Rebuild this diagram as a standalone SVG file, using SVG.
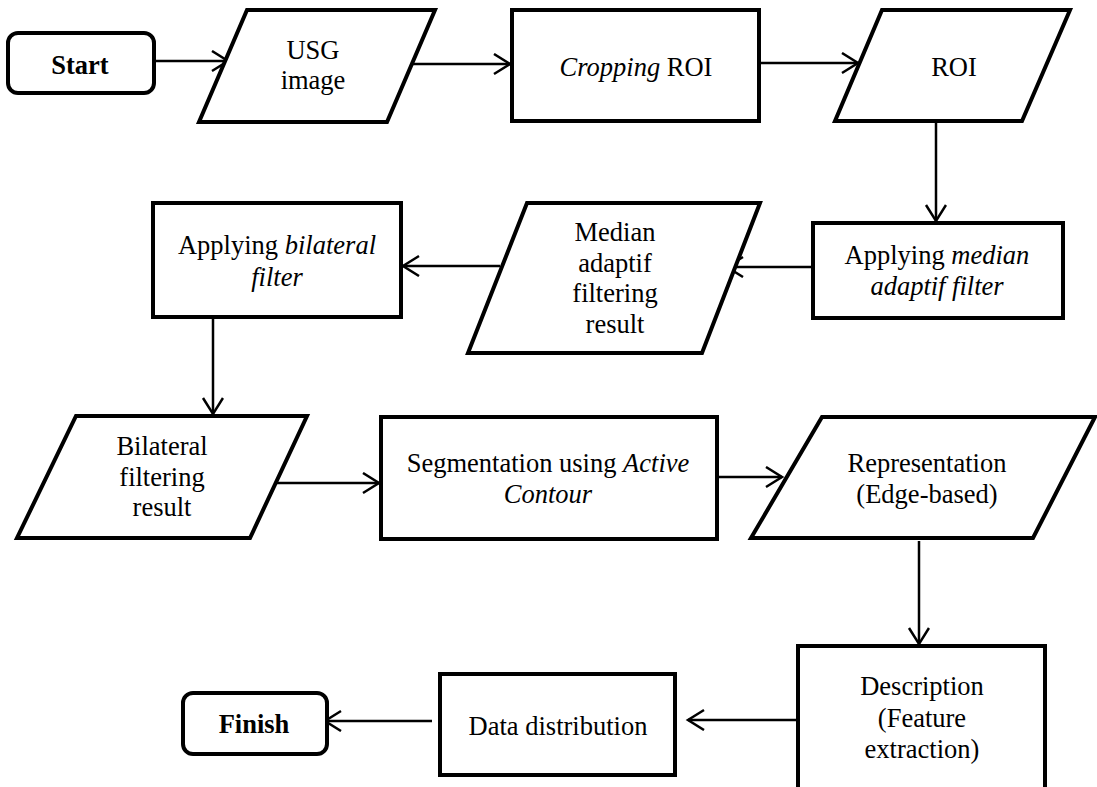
<svg xmlns="http://www.w3.org/2000/svg" width="1097" height="787" viewBox="0 0 1097 787">
<defs>
<style>
.box{fill:#fff;stroke:#000;stroke-width:4;stroke-linejoin:miter}
.t{font-family:"Liberation Serif","Times New Roman",serif;font-size:26.5px;fill:#000;text-anchor:middle}
.b{font-weight:bold}
.i{font-style:italic}
.c{fill:none;stroke:#000;stroke-width:2.5}
</style>
<marker id="ah" markerUnits="userSpaceOnUse" markerWidth="22" markerHeight="26" refX="17" refY="11" orient="auto">
<path d="M1,1 L17,11 L1,21" fill="none" stroke="#000" stroke-width="2.5"/>
</marker>
</defs>
<rect width="1097" height="787" fill="#fff"/>
<g id="connectors">
<line class="c" x1="154" y1="61" x2="228" y2="61" marker-end="url(#ah)"/>
<line class="c" x1="413" y1="64" x2="510" y2="64" marker-end="url(#ah)"/>
<line class="c" x1="759" y1="63" x2="858" y2="63" marker-end="url(#ah)"/>
<line class="c" x1="936" y1="122" x2="936" y2="221" marker-end="url(#ah)"/>
<line class="c" x1="813" y1="267" x2="727" y2="267" marker-end="url(#ah)"/>
<line class="c" x1="500" y1="266" x2="403" y2="266" marker-end="url(#ah)"/>
<line class="c" x1="213" y1="317" x2="213" y2="414" marker-end="url(#ah)"/>
<line class="c" x1="277" y1="483" x2="379" y2="483" marker-end="url(#ah)"/>
<line class="c" x1="717" y1="477" x2="782" y2="477" marker-end="url(#ah)"/>
<line class="c" x1="919" y1="541" x2="919" y2="644" marker-end="url(#ah)"/>
<line class="c" x1="798" y1="720" x2="688" y2="720" marker-end="url(#ah)"/>
<line class="c" x1="432" y1="721" x2="325" y2="721" marker-end="url(#ah)"/>
</g>
<g id="start">
<rect class="box" x="8" y="33" width="146" height="60" rx="10"/>
<text class="t b" x="80" y="74">Start</text>
</g>
<g id="usg-image">
<polygon class="box" points="247,10 435,10 387,122 199,122"/>
<text class="t" x="313" y="59">USG</text>
<text class="t" x="313" y="89">image</text>
</g>
<g id="cropping-roi">
<rect class="box" x="512" y="10" width="247" height="111"/>
<text class="t" x="636" y="76"><tspan class="i">Cropping</tspan> ROI</text>
</g>
<g id="roi">
<polygon class="box" points="882,10 1070,10 1022,121 835,121"/>
<text class="t" x="954" y="76">ROI</text>
</g>
<g id="applying-median">
<rect class="box" x="813" y="223" width="250" height="95"/>
<text class="t" x="937" y="264">Applying <tspan class="i">median</tspan></text>
<text class="t i" x="937" y="295">adaptif filter</text>
</g>
<g id="median-result">
<polygon class="box" points="527,203 760,203 702,353 468,353"/>
<text class="t" x="615" y="241">Median</text>
<text class="t" x="615" y="272">adaptif</text>
<text class="t" x="615" y="302">filtering</text>
<text class="t" x="615" y="333">result</text>
</g>
<g id="applying-bilateral">
<rect class="box" x="153" y="203" width="248" height="114"/>
<text class="t" x="277" y="254">Applying <tspan class="i">bilateral</tspan></text>
<text class="t i" x="277" y="286">filter</text>
</g>
<g id="bilateral-result">
<polygon class="box" points="76,416 307,416 250,538 17,538"/>
<text class="t" x="162" y="455">Bilateral</text>
<text class="t" x="162" y="486">filtering</text>
<text class="t" x="162" y="516">result</text>
</g>
<g id="segmentation">
<rect class="box" x="381" y="417" width="336" height="122"/>
<text class="t" x="548" y="472">Segmentation using <tspan class="i">Active</tspan></text>
<text class="t i" x="548" y="503">Contour</text>
</g>
<g id="representation">
<polygon class="box" points="822,417 1095,417 1033,538 751,538"/>
<text class="t" x="927" y="472">Representation</text>
<text class="t" x="927" y="503">(Edge-based)</text>
</g>
<g id="description">
<rect class="box" x="798" y="646" width="247" height="150"/>
<text class="t" x="922" y="695">Description</text>
<text class="t" x="922" y="727">(Feature</text>
<text class="t" x="922" y="758">extraction)</text>
</g>
<g id="data-distribution">
<rect class="box" x="440" y="674" width="235" height="101"/>
<text class="t" x="558" y="735">Data distribution</text>
</g>
<g id="finish">
<rect class="box" x="183" y="693" width="144" height="61" rx="10"/>
<text class="t b" x="254" y="733">Finish</text>
</g>
</svg>
